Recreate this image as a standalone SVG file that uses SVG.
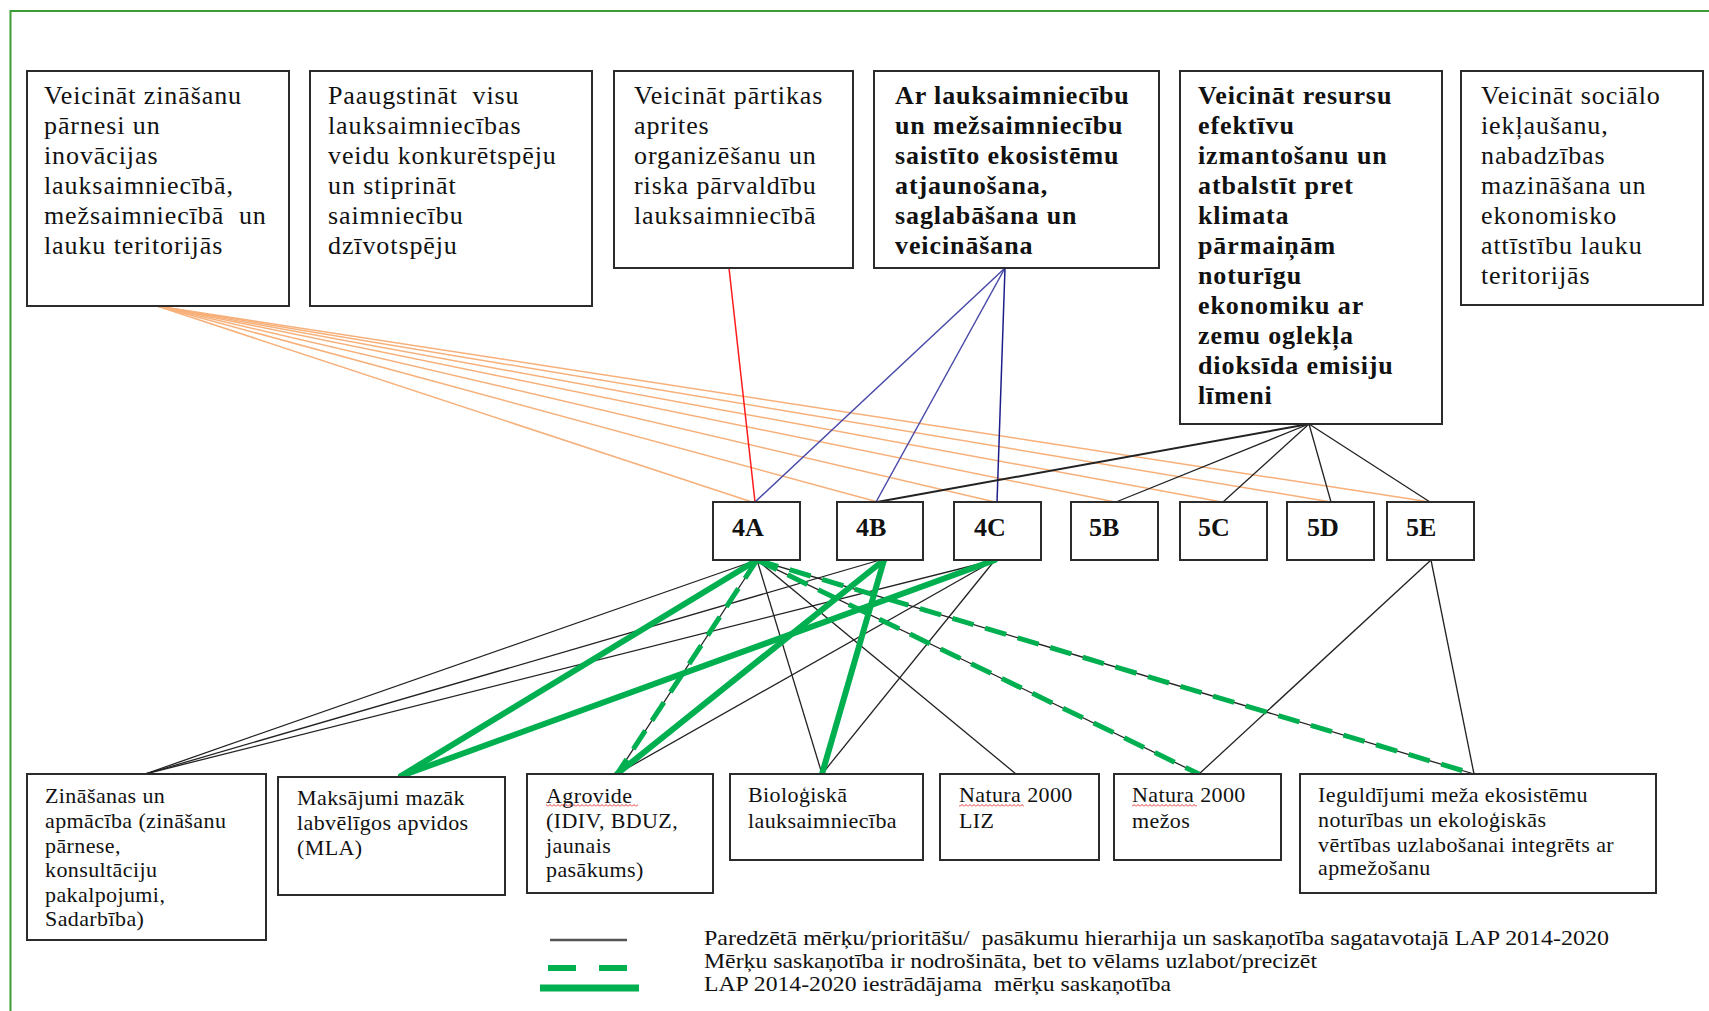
<svg xmlns="http://www.w3.org/2000/svg" width="1709" height="1011" viewBox="0 0 1709 1011">
<style>
.box{fill:#fff;stroke:#2b2b2b;stroke-width:2}
.t{font-family:"Liberation Serif","Times New Roman",serif;font-size:26px;fill:#111;letter-spacing:0.9px}
.b{font-weight:bold}
.s{font-size:22px;letter-spacing:0.4px}
.lg{font-size:22px;letter-spacing:0px}
.pre{white-space:pre}
.lbl{font-family:"Liberation Serif","Times New Roman",serif;font-size:26px;font-weight:bold;fill:#111}
.k{stroke:#222;stroke-width:1.3;fill:none}
.or{stroke:#F7B07A;stroke-width:1.5;fill:none}
.bl{stroke:#4a4aa8;stroke-width:1.5;fill:none}
.nv{stroke:#1e1e8a;stroke-width:1.5;fill:none}
.rd{stroke:#ff1a1a;stroke-width:1.5;fill:none}
.g{stroke:#00B050;stroke-width:6;fill:none;stroke-linecap:round}
.gd{stroke:#00B050;stroke-width:5;fill:none;stroke-dasharray:22 12}
</style>
<defs>
<pattern id="wavy" x="0" y="0" width="4" height="3" patternUnits="userSpaceOnUse">
<path d="M0 2.5 L2 0.5 L4 2.5" stroke="#e02020" stroke-width="0.9" fill="none"/>
</pattern>
</defs>
<rect width="1709" height="1011" fill="#fff"/>
<path d="M10.5 1011 V11 H1709" stroke="#3c9c35" stroke-width="2" fill="none"/>

<g id="connectors">
<line class="or" x1="157" y1="306" x2="752" y2="502"/>
<line class="or" x1="157" y1="306" x2="878" y2="502"/>
<line class="or" x1="157" y1="306" x2="995" y2="502"/>
<line class="or" x1="157" y1="306" x2="1115" y2="502"/>
<line class="or" x1="157" y1="306" x2="1222" y2="502"/>
<line class="or" x1="157" y1="306" x2="1331" y2="502"/>
<line class="or" x1="157" y1="306" x2="1430" y2="502"/>
<line class="rd" x1="729" y1="268" x2="755" y2="502"/>
<line class="bl" x1="1005" y1="268" x2="755" y2="502"/>
<line class="bl" x1="1005" y1="268" x2="876" y2="502"/>
<line class="nv" x1="1005" y1="268" x2="997" y2="502"/>
<line class="k" style="stroke-width:2" x1="1309" y1="424" x2="877" y2="502"/>
<line class="k" x1="1309" y1="424" x2="1116" y2="502"/>
<line class="k" x1="1309" y1="424" x2="1223" y2="502"/>
<line class="k" x1="1309" y1="424" x2="1331" y2="502"/>
<line class="k" x1="1309" y1="424" x2="1430" y2="502"/>
<line class="k" x1="757" y1="560" x2="145" y2="774"/>
<line class="k" x1="880" y1="560" x2="145" y2="774"/>
<line class="k" x1="995" y1="560" x2="145" y2="774"/>
<line class="k" x1="995" y1="560" x2="617" y2="774"/>
<line class="k" x1="757" y1="560" x2="822" y2="774"/>
<line class="k" x1="995" y1="560" x2="822" y2="774"/>
<line class="k" x1="757" y1="560" x2="1016" y2="774"/>
<line class="k" x1="1431" y1="560" x2="1199" y2="774"/>
<line class="k" x1="1431" y1="560" x2="1474" y2="774"/>
<line class="k" x1="757" y1="560" x2="617" y2="774"/>
<line class="k" x1="757" y1="560" x2="1199" y2="774"/>
<line class="k" x1="757" y1="560" x2="1474" y2="774"/>
<line class="g" x1="757" y1="560" x2="401" y2="776"/>
<line class="g" x1="995" y1="560" x2="401" y2="776"/>
<line class="g" x1="884" y1="560" x2="617" y2="774"/>
<line class="g" x1="884" y1="560" x2="822" y2="774"/>
<line class="gd" x1="757" y1="560" x2="617" y2="774"/>
<line class="gd" x1="757" y1="560" x2="1199" y2="774"/>
<line class="gd" x1="757" y1="560" x2="1474" y2="774"/>
</g>

<g id="goal1"><rect class="box" x="27" y="71" width="262" height="235"/>
<text class="t pre"><tspan x="44" y="104">Veicināt zināšanu</tspan><tspan x="44" y="134">pārnesi un</tspan><tspan x="44" y="164">inovācijas</tspan><tspan x="44" y="194">lauksaimniecībā,</tspan><tspan x="44" y="224">mežsaimniecībā  un</tspan><tspan x="44" y="254">lauku teritorijās</tspan></text></g>

<g id="goal2"><rect class="box" x="310" y="71" width="282" height="235"/>
<text class="t pre"><tspan x="328" y="104">Paaugstināt  visu</tspan><tspan x="328" y="134">lauksaimniecības</tspan><tspan x="328" y="164">veidu konkurētspēju</tspan><tspan x="328" y="194">un stiprināt</tspan><tspan x="328" y="224">saimniecību</tspan><tspan x="328" y="254">dzīvotspēju</tspan></text></g>

<g id="goal3"><rect class="box" x="614" y="71" width="239" height="197"/>
<text class="t"><tspan x="634" y="104">Veicināt pārtikas</tspan><tspan x="634" y="134">aprites</tspan><tspan x="634" y="164">organizēšanu un</tspan><tspan x="634" y="194">riska pārvaldību</tspan><tspan x="634" y="224">lauksaimniecībā</tspan></text></g>

<g id="goal4"><rect class="box" x="874" y="71" width="285" height="197"/>
<text class="t b"><tspan x="895" y="104">Ar lauksaimniecību</tspan><tspan x="895" y="134">un mežsaimniecību</tspan><tspan x="895" y="164">saistīto ekosistēmu</tspan><tspan x="895" y="194">atjaunošana,</tspan><tspan x="895" y="224">saglabāšana un</tspan><tspan x="895" y="254">veicināšana</tspan></text></g>

<g id="goal5"><rect class="box" x="1180" y="71" width="262" height="353"/>
<text class="t b"><tspan x="1198" y="104">Veicināt resursu</tspan><tspan x="1198" y="134">efektīvu</tspan><tspan x="1198" y="164">izmantošanu un</tspan><tspan x="1198" y="194">atbalstīt pret</tspan><tspan x="1198" y="224">klimata</tspan><tspan x="1198" y="254">pārmaiņām</tspan><tspan x="1198" y="284">noturīgu</tspan><tspan x="1198" y="314">ekonomiku ar</tspan><tspan x="1198" y="344">zemu oglekļa</tspan><tspan x="1198" y="374">dioksīda emisiju</tspan><tspan x="1198" y="404">līmeni</tspan></text></g>

<g id="goal6"><rect class="box" x="1461" y="71" width="242" height="234"/>
<text class="t"><tspan x="1481" y="104">Veicināt sociālo</tspan><tspan x="1481" y="134">iekļaušanu,</tspan><tspan x="1481" y="164">nabadzības</tspan><tspan x="1481" y="194">mazināšana un</tspan><tspan x="1481" y="224">ekonomisko</tspan><tspan x="1481" y="254">attīstību lauku</tspan><tspan x="1481" y="284">teritorijās</tspan></text></g>

<g id="p4A"><rect class="box" x="713" y="502" width="87" height="58"/><text class="lbl" x="732" y="536">4A</text></g>
<g id="p4B"><rect class="box" x="837" y="502" width="86" height="58"/><text class="lbl" x="856" y="536">4B</text></g>
<g id="p4C"><rect class="box" x="954" y="502" width="87" height="58"/><text class="lbl" x="974" y="536">4C</text></g>
<g id="p5B"><rect class="box" x="1071" y="502" width="87" height="58"/><text class="lbl" x="1089" y="536">5B</text></g>
<g id="p5C"><rect class="box" x="1180" y="502" width="87" height="58"/><text class="lbl" x="1198" y="536">5C</text></g>
<g id="p5D"><rect class="box" x="1287" y="502" width="87" height="58"/><text class="lbl" x="1307" y="536">5D</text></g>
<g id="p5E"><rect class="box" x="1387" y="502" width="87" height="58"/><text class="lbl" x="1406" y="536">5E</text></g>

<g id="mZ"><rect class="box" x="27" y="774" width="239" height="166"/>
<text class="t s"><tspan x="45" y="803">Zināšanas un</tspan><tspan x="45" y="828">apmācība (zināšanu</tspan><tspan x="45" y="853">pārnese,</tspan><tspan x="45" y="877">konsultāciju</tspan><tspan x="45" y="902">pakalpojumi,</tspan><tspan x="45" y="926">Sadarbība)</tspan></text></g>

<g id="mM"><rect class="box" x="278" y="777" width="227" height="118"/>
<text class="t s"><tspan x="297" y="805">Maksājumi mazāk</tspan><tspan x="297" y="830">labvēlīgos apvidos</tspan><tspan x="297" y="855">(MLA)</tspan></text></g>

<g id="mA"><rect class="box" x="527" y="774" width="186" height="119"/>
<rect x="546" y="804" width="92" height="3" fill="url(#wavy)"/>
<text class="t s"><tspan x="546" y="803">Agrovide</tspan><tspan x="546" y="828">(IDIV, BDUZ,</tspan><tspan x="546" y="853">jaunais</tspan><tspan x="546" y="877">pasākums)</tspan></text></g>

<g id="mB"><rect class="box" x="730" y="774" width="193" height="86"/>
<text class="t s"><tspan x="748" y="802">Bioloģiskā</tspan><tspan x="748" y="828">lauksaimniecība</tspan></text></g>

<g id="mN1"><rect class="box" x="940" y="774" width="159" height="86"/>
<rect x="959" y="804" width="65" height="3" fill="url(#wavy)"/>
<text class="t s"><tspan x="959" y="802">Natura 2000</tspan><tspan x="959" y="828">LIZ</tspan></text></g>

<g id="mN2"><rect class="box" x="1114" y="774" width="167" height="86"/>
<rect x="1132" y="804" width="65" height="3" fill="url(#wavy)"/>
<text class="t s"><tspan x="1132" y="802">Natura 2000</tspan><tspan x="1132" y="828">mežos</tspan></text></g>

<g id="mI"><rect class="box" x="1300" y="774" width="356" height="119"/>
<text class="t s"><tspan x="1318" y="802">Ieguldījumi meža ekosistēmu</tspan><tspan x="1318" y="827">noturības un ekoloģiskās</tspan><tspan x="1318" y="852">vērtības uzlabošanai integrēts ar</tspan><tspan x="1318" y="875">apmežošanu</tspan></text></g>

<g id="legend">
<line x1="550" y1="940" x2="627" y2="940" stroke="#555" stroke-width="2.5"/>
<line x1="548" y1="968" x2="627" y2="968" stroke="#00B050" stroke-width="6" stroke-dasharray="28 23"/>
<line x1="540" y1="988" x2="639" y2="988" stroke="#00B050" stroke-width="7"/>
<text class="t lg pre" x="704" y="945" textLength="905" lengthAdjust="spacingAndGlyphs">Paredzētā mērķu/prioritāšu/  pasākumu hierarhija un saskaņotība sagatavotajā LAP 2014-2020</text>
<text class="t lg" x="704" y="968" textLength="613" lengthAdjust="spacingAndGlyphs">Mērķu saskaņotība ir nodrošināta, bet to vēlams uzlabot/precizēt</text>
<text class="t lg pre" x="704" y="991" textLength="467" lengthAdjust="spacingAndGlyphs">LAP 2014-2020 iestrādājama  mērķu saskaņotība</text>
</g>
</svg>
